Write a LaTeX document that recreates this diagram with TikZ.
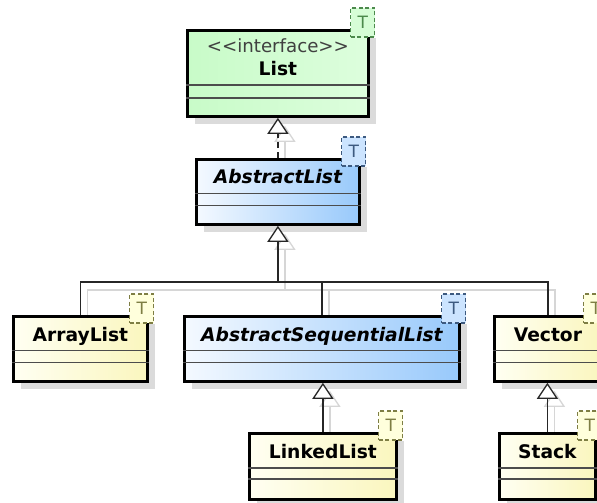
\documentclass[tikz,border=0pt]{standalone}
\usepackage{fontspec}
\setmainfont{DejaVu Sans}
\usetikzlibrary{arrows.meta, shadows, backgrounds}

\definecolor{greenA}{HTML}{C8FBC8}
\definecolor{greenB}{HTML}{DDFEDD}
\definecolor{blueA}{HTML}{F4F9FF}
\definecolor{blueB}{HTML}{98C9FB}
\definecolor{yellowA}{HTML}{FFFFF2}
\definecolor{yellowB}{HTML}{FAF6BE}
\definecolor{tgreen}{HTML}{4C8A4C}
\definecolor{tgreenfill}{HTML}{D6FDD6}
\definecolor{tblue}{HTML}{3D5A80}
\definecolor{tbluefill}{HTML}{CCE4FF}
\definecolor{tyellow}{HTML}{7E7E44}
\definecolor{tyellowfill}{HTML}{FFFFDC}

\tikzset{
  classbox/.style={draw=black, line width=2.8pt, anchor=north west, inner sep=0pt,
    drop shadow={shadow xshift=8pt, shadow yshift=-8pt, fill=black!14, opacity=1}},
  greenclass/.style={classbox, left color=greenA, right color=greenB},
  blueclass/.style={classbox, left color=blueA, right color=blueB},
  yellowclass/.style={classbox, left color=yellowA, right color=yellowB},
  classname/.style={anchor=base, inner sep=0pt, font=\fontsize{18.7}{22}\selectfont\bfseries},
  abstractname/.style={classname, font=\fontsize{18.7}{22}\selectfont\bfseries\itshape},
  stereo/.style={anchor=base, inner sep=0pt, text=black!75, font=\fontsize{18.2}{22}\selectfont},
  sep/.style={draw=black!70, line width=1.8pt},
  tbox/.style={draw, dash pattern=on 4pt off 2.5pt, line width=1.2pt, inner sep=0pt,
    minimum width=24pt, minimum height=29pt, font=\fontsize{17}{19}\selectfont},
  greent/.style={tbox, draw=tgreen, fill=tgreenfill, text=tgreen},
  bluet/.style={tbox, draw=tblue, fill=tbluefill, text=tblue},
  yellowt/.style={tbox, draw=tyellow, fill=tyellowfill, text=tyellow},
  treeline/.style={draw=black!85, line width=1.3pt},
  inherit/.style={treeline, -{Triangle[width=21pt, length=16pt, fill=white]}},
  shadowline/.style={draw=black!16, line width=1.3pt,
    -{Triangle[open, width=21pt, length=16pt]},
    transform canvas={xshift=7pt, yshift=-8pt}},
}

\begin{document}
\begin{tikzpicture}[x=1pt, y=-1pt]
  \useasboundingbox (0,0) rectangle (597,503);
  \clip (0,0) rectangle (597,503);

  \node[greenclass,  minimum width=181pt, minimum height=86pt] (list)       at (186,29)  {};
  \node[blueclass,   minimum width=163pt, minimum height=65pt] (abslist)    at (195,158) {};
  \node[yellowclass, minimum width=134pt, minimum height=65pt] (arraylist)  at (12,315)  {};
  \node[blueclass,   minimum width=275pt, minimum height=65pt] (asl)        at (183,315) {};
  \node[yellowclass, minimum width=107pt, minimum height=65pt] (vector)     at (493,315) {};
  \node[yellowclass, minimum width=147pt, minimum height=66pt] (linkedlist) at (248,432) {};
  \node[yellowclass, minimum width=96pt,  minimum height=66pt] (stack)      at (498,432) {};

  \node[stereo]       (list-stereo)     at ([yshift=-24pt]list.north)       {<\kern0pt<interface>\kern0pt>};
  \node[classname]    (list-name)       at ([yshift=-46pt]list.north)       {List};
  \node[abstractname] (abslist-name)    at ([yshift=-25pt]abslist.north)    {AbstractList};
  \node[classname]    (arraylist-name)  at ([yshift=-26pt]arraylist.north)  {ArrayList};
  \node[abstractname] (asl-name)        at ([yshift=-26pt]asl.north)        {AbstractSequentialList};
  \node[classname]    (vector-name)     at ([yshift=-26pt]vector.north)     {Vector};
  \node[classname]    (linkedlist-name) at ([yshift=-26pt]linkedlist.north) {LinkedList};
  \node[classname]    (stack-name)      at ([yshift=-26pt]stack.north)      {Stack};

  \path[sep]
    ([yshift=-56pt]list.north west)         -- ([yshift=-56pt]list.north east)
    ([yshift=-69pt]list.north west)         -- ([yshift=-69pt]list.north east)
    ([yshift=-35.5pt]abslist.north west)    -- ([yshift=-35.5pt]abslist.north east)
    ([yshift=-47.5pt]abslist.north west)    -- ([yshift=-47.5pt]abslist.north east)
    ([yshift=-35.5pt]arraylist.north west)  -- ([yshift=-35.5pt]arraylist.north east)
    ([yshift=-47.5pt]arraylist.north west)  -- ([yshift=-47.5pt]arraylist.north east)
    ([yshift=-35.5pt]asl.north west)        -- ([yshift=-35.5pt]asl.north east)
    ([yshift=-47.5pt]asl.north west)        -- ([yshift=-47.5pt]asl.north east)
    ([yshift=-35.5pt]vector.north west)     -- ([yshift=-35.5pt]vector.north east)
    ([yshift=-47.5pt]vector.north west)     -- ([yshift=-47.5pt]vector.north east)
    ([yshift=-36pt]linkedlist.north west)   -- ([yshift=-36pt]linkedlist.north east)
    ([yshift=-47pt]linkedlist.north west)   -- ([yshift=-47pt]linkedlist.north east)
    ([yshift=-36pt]stack.north west)        -- ([yshift=-36pt]stack.north east)
    ([yshift=-47pt]stack.north west)        -- ([yshift=-47pt]stack.north east);

  \node[greent]  (list-t)       at ([xshift=-7pt, yshift=6.5pt]list.north east)       {T};
  \node[bluet]   (abslist-t)    at ([xshift=-7pt, yshift=6.5pt]abslist.north east)    {T};
  \node[yellowt] (arraylist-t)  at ([xshift=-7pt, yshift=6.5pt]arraylist.north east)  {T};
  \node[bluet]   (asl-t)        at ([xshift=-7pt, yshift=6.5pt]asl.north east)        {T};
  \node[yellowt] (vector-t)     at ([xshift=-7pt, yshift=6.5pt]vector.north east)     {T};
  \node[yellowt] (linkedlist-t) at ([xshift=-7pt, yshift=6.5pt]linkedlist.north east) {T};
  \node[yellowt] (stack-t)      at ([xshift=-7pt, yshift=6.5pt]stack.north east)      {T};

  \coordinate (fork) at (abslist.south |- 0,282);

  \begin{scope}[on background layer]
    \draw[shadowline] (abslist.north) -- (list.south);
    \draw[shadowline] (fork) -- (abslist.south);
    \draw[shadowline, -] (arraylist.north) |- (fork) -| (vector.north);
    \draw[shadowline, -] (asl.north) |- (fork);
    \draw[shadowline] (linkedlist.north) -- (linkedlist.north |- asl.south);
    \draw[shadowline] (stack.north) -- (stack.north |- vector.south);
  \end{scope}

  \draw[inherit, dash pattern=on 6pt off 4pt] (abslist.north) -- (list.south);
  \draw[inherit] (fork) -- (abslist.south);
  \draw[treeline] (arraylist.north) |- (fork) -| (vector.north);
  \draw[treeline] (asl.north) |- (fork);
  \draw[inherit] (linkedlist.north) -- (linkedlist.north |- asl.south);
  \draw[inherit] (stack.north) -- (stack.north |- vector.south);
\end{tikzpicture}
\end{document}
